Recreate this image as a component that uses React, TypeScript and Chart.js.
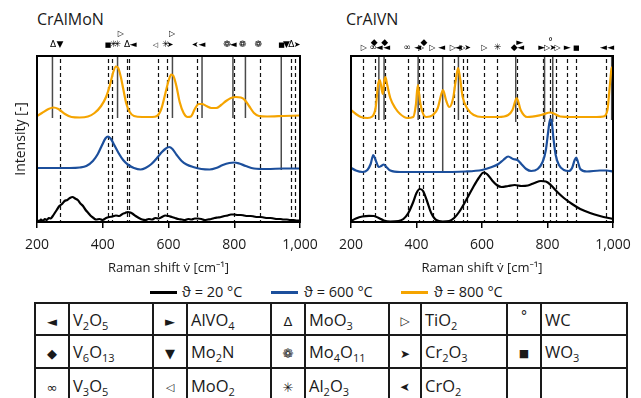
import React, { useEffect, useRef } from 'react';
import { Chart, registerables } from 'chart.js';
Chart.register(...registerables);

const FONT = '"Open Sans", "Noto Sans", "DejaVu Sans", sans-serif';
const SYMFONT = '"DejaVu Sans", "Noto Sans", sans-serif';
const BLACK = '#000000';
const BLUE = '#1c4f9c';
const ORANGE = '#f5a400';

// ---------- CrAlMoN (left panel) ----------
const moBlackX = [200,206,212,218,224,230,236,242,248,254,260,268,276,284,292,300,308,316,324,332,340,348,356,364,372,380,390,400,410,420,430,440,450,460,468,476,484,492,500,510,520,530,540,550,560,570,580,590,600,610,620,630,640,650,660,670,680,690,700,710,720,730,740,750,760,770,780,790,800,810,820,830,840,850,860,870,880,890,900,910,920,930,940,950,960,970,980,990,1000];
const moBlackY = [2,0.5,2.5,1,3,2,4,3.5,6,9,12,16,18,21,22,24,25,23.5,22,18.5,16,12,9,6,4,2.5,3,2,4,5,5.5,6.5,6,8,9,10,9.5,8,6,4,2.5,2,3,2.5,4,3.5,5,6.5,6,5,4,3,2.5,2,3,2.5,3.5,3.5,3,2,2.5,3,4,4.5,5,6,6.5,7.5,7.5,7,7,6.5,6,6,5.5,5,5,4.5,4,4,3.5,3,3,2.5,2.5,2,2,1.5,1.5];
const moBlueX = [200,250,300,330,350,370,385,398,408,416,425,435,448,462,478,495,515,530,548,565,580,592,602,612,625,640,655,675,700,725,745,765,785,800,815,835,860,900,950,1000];
const moBlueY = [54,54,54,54.5,56,61,68,77,83.5,85.5,83,77,69,62,57,54,52.5,54,58,64,70,73.5,75,73,67,61,57.5,55,53,52.5,54,57,59,59.5,58.5,56,53.5,53,53.5,53.5];
const moOrangeX = [200,215,235,250,265,285,305,330,355,375,395,410,422,432,440,447,455,463,472,482,495,520,550,565,578,590,600,608,615,624,634,646,658,668,680,692,702,715,730,745,760,775,790,805,820,832,845,860,875,900,950,1000];
const moOrangeY = [106,109,113,114.5,113,108,105,104.5,105.5,109,116,125,137,150,155.5,154,145,132,118,110,106,105,105,106,113,128,141,147.5,146,136,120,109,105,105.5,113,118,118,116,114,114,117,121,124,125,124.5,122,116,109,106,105.5,106,106.5];
const moDashed = [270,417,428,475,481,567,595,687,800,878,974,986];
const moSolid = [247,445,612,702,796,834,943];
const moSolidBottom = [104,104,104,104,104,104,52];
const moSymPos = [249,270,416,432,444,455,474,493,560,592,605,611,681,702,778,797,825,873,944,959,974,991];
const moSymKey = ['MoO3','Mo2N','WO3','Al2O3','Al2O3','TiO2','MoO3','V2O5','MoO2','Al2O3','Cr2O3','TiO2','CrO2','V2O5','Mo4O11','V2O5','Mo4O11','Mo4O11','WO3','Mo2N','MoO3','Cr2O3'];
const moSymRow = [0,0,0,0,0,1,0,0,0,0,0,1,0,0,0,0,0,0,0,0,0,0];

// ---------- CrAlVN (right panel) ----------
const vBlackX = [200,215,235,255,270,285,300,320,345,360,375,390,400,410,420,432,445,460,480,500,515,530,550,570,590,605,615,630,645,660,680,700,720,740,760,780,795,810,830,850,875,900,930,960,1000];
const vBlackY = [1,3.5,5.5,6.2,6,4,1.5,0.5,1,3,9,20,29,33,31,21,9,2,0.5,1,4,10,21,33,44,49.5,48,42,37,35,36,37,36,36.5,39,41,40.5,37,30,24,18,13,9,6,3];
const vBlueX = [200,215,235,250,260,268,275,285,292,300,308,320,350,450,550,600,630,650,665,680,695,708,720,735,750,770,785,795,802,808,812,818,825,835,850,865,875,883,888,893,900,920,960,980,1000];
const vBlueY = [54.3,51.5,50,52,58,67,62,55,56,57.5,55,51.5,50,50,50.5,52,55,58,62,65.5,63,62,58,53,51,53,60,72,90,103,102,84,67,57,52,51,54,62,64.5,60,53,50.5,51.5,51.5,50.5];
const vOrangeX = [200,215,230,250,265,275,283,288,293,297,301,305,310,320,335,350,372,390,398,404,410,418,430,450,465,475,481,490,500,512,520,527,533,541,556,575,600,650,680,693,706,718,738,780,809,839,870,950,971,983,991,996,1000];
const vOrangeY = [112,108,105,104,105.5,114,138,142,134,128,140,145,138,124,114,108,104,105,117,137,122,110,105,107,114,127,132,122,115,124,142,154,144,125,113,107,105,105,107,112,124,112,105,107,109.5,105.5,105,105,105.5,112,139,154,155];
const vDashed = [238,273,303,374,408,420,450,516,541,553,607,647,708,787,807,826,860,888,978];
const vSolid = [285,301,405,480,528,703,791,816,996];
const vSolidBottom = [102,102,102,50,102,100,100,100,102];
const vSymPos = [239,268,271,286,303,309,372,404,414,423,448,477,511,528,541,556,607,647,698,715,718,782,799,809,816,831,860,888,971,993];
const vSymKey = ['TiO2','V3O5','V6O13','V2O5','V6O13','V2O5','V3O5','V2O5','TiO2','V6O13','TiO2','V2O5','TiO2','V2O5','TiO2','Cr2O3','TiO2','Al2O3','V6O13','AlVO4','V2O5','AlVO4','TiO2','WC','Cr2O3','TiO2','AlVO4','WO3','V2O5','V2O5'];
const vSymRow = [0,0,1,0,1,0,0,0,0,1,0,0,0,0,0,0,0,0,0,1,0,0,0,1,0,0,0,0,0,0];

// ---------- legend / table ----------
const legendLabels = ['ϑ = 20 °C', 'ϑ = 600 °C', 'ϑ = 800 °C'];
const tableRows = [
  ['V2O5', 'AlVO4', 'MoO3', 'TiO2', 'WC'],
  ['V6O13', 'Mo2N', 'Mo4O11', 'Cr2O3', 'WO3'],
  ['V3O5', 'MoO2', 'Al2O3', 'CrO2', ''],
];

const GLYPH: Record<string, { ch: string; size: number; mirror?: boolean }> = {
  V2O5: { ch: '◄', size: 9 },
  AlVO4: { ch: '►', size: 9 },
  MoO3: { ch: 'Δ', size: 9 },
  TiO2: { ch: '▷', size: 8 },
  WC: { ch: '°', size: 10 },
  V6O13: { ch: '◆', size: 9 },
  Mo2N: { ch: '▼', size: 9 },
  Mo4O11: { ch: '❁', size: 9 },
  Cr2O3: { ch: '➤', size: 8 },
  WO3: { ch: '■', size: 7 },
  V3O5: { ch: '∞', size: 9 },
  MoO2: { ch: '◁', size: 7 },
  Al2O3: { ch: '✳', size: 9 },
  CrO2: { ch: '➤', size: 8, mirror: true },
};

type Panel = {
  bx: number[]; by: number[]; ux: number[]; uy: number[]; ox: number[]; oy: number[];
  dashed: number[]; solid: number[]; solidBottom: number[];
  symPos: number[]; symKey: string[]; symRow: number[]; rowY: number[];
  yWidth: number; padRight: number; yTitle: boolean;
};

const zip = (xs: number[], ys: number[]) => xs.map((x, i) => ({ x, y: ys[i] }));

function decoPlugin(p: Panel) {
  return {
    id: 'deco',
    beforeDatasetsDraw(chart: any) {
      const { ctx, chartArea: a, scales } = chart;
      const xs = scales.x, ys = scales.y;
      ctx.save();
      ctx.beginPath();
      ctx.rect(a.left, a.top, a.right - a.left, a.bottom - a.top);
      ctx.clip();
      ctx.strokeStyle = '#111';
      ctx.lineWidth = 1.2;
      ctx.setLineDash([4, 3]);
      for (const v of p.dashed) {
        const px = Math.round(xs.getPixelForValue(v)) + 0.5;
        ctx.beginPath();
        ctx.moveTo(px, a.top + 3);
        ctx.lineTo(px, a.bottom);
        ctx.stroke();
      }
      ctx.setLineDash([]);
      ctx.strokeStyle = '#4a4a4a';
      ctx.lineWidth = 1.5;
      p.solid.forEach((v, i) => {
        const px = xs.getPixelForValue(v);
        ctx.beginPath();
        ctx.moveTo(px, a.top);
        ctx.lineTo(px, ys.getPixelForValue(p.solidBottom[i]));
        ctx.stroke();
      });
      ctx.restore();
    },
    afterDraw(chart: any) {
      const { ctx, chartArea: a, scales } = chart;
      const xs = scales.x;
      ctx.save();
      ctx.strokeStyle = '#000';
      ctx.lineWidth = 2;
      ctx.strokeRect(a.left, a.top, a.right - a.left, a.bottom - a.top);
      ctx.fillStyle = '#000';
      ctx.textAlign = 'center';
      ctx.textBaseline = 'middle';
      p.symPos.forEach((v, i) => {
        const g = GLYPH[p.symKey[i]];
        const px = xs.getPixelForValue(v);
        const py = p.rowY[p.symRow[i]];
        ctx.font = `${g.size}px ${SYMFONT}`;
        ctx.save();
        ctx.translate(px, py);
        if (g.mirror) ctx.scale(-1, 1);
        ctx.fillText(g.ch, 0, 0);
        ctx.restore();
      });
      ctx.restore();
    },
  };
}

function buildConfig(p: Panel): any {
  const ds = (data: any, color: string, w: number) => ({
    data, borderColor: color, backgroundColor: color, borderWidth: w, pointRadius: 0,
    tension: 0.4, cubicInterpolationMode: 'monotone', fill: false,
  });
  return {
    type: 'line',
    data: {
      datasets: [
        ds(zip(p.bx, p.by), BLACK, 2.2),
        ds(zip(p.ux, p.uy), BLUE, 2.2),
        ds(zip(p.ox, p.oy), ORANGE, 2.2),
      ],
    },
    options: {
      animation: false,
      responsive: false,
      devicePixelRatio: 1,
      layout: { padding: { top: 56, right: p.padRight, left: 0, bottom: 0 } },
      plugins: { legend: { display: false }, tooltip: { enabled: false } },
      scales: {
        x: {
          type: 'linear', min: 200, max: 1000,
          ticks: {
            stepSize: 200, maxRotation: 0, padding: 9, color: '#1a1a1a',
            font: { family: FONT, size: 14 },
            callback: (v: number) => v.toLocaleString('en-US'),
          },
          grid: { display: true, drawOnChartArea: false, drawTicks: true, tickLength: 6, color: '#000', lineWidth: 1.5 },
          border: { display: false },
          title: {
            display: true, text: 'Raman shift v\u0307 [cm\u207B\u00B9]', color: '#1a1a1a',
            font: { family: FONT, size: 13 }, padding: { top: 0, bottom: 4 },
          },
          afterFit: (s: any) => { s.height = 58; },
        },
        y: {
          type: 'linear', min: 0, max: 166,
          ticks: { display: false },
          grid: { display: false },
          border: { display: false },
          title: {
            display: p.yTitle, text: 'Intensity [-]', color: '#1a1a1a',
            font: { family: FONT, size: 14 }, padding: { top: 13, bottom: 0 },
          },
          afterFit: (s: any) => { s.width = p.yWidth; },
        },
      },
    },
    plugins: [decoPlugin(p)],
  };
}

function ChartPanel({ panel, left, width }: { panel: Panel; left: number; width: number }) {
  const ref = useRef<HTMLCanvasElement>(null);
  useEffect(() => {
    const c = new Chart(ref.current as HTMLCanvasElement, buildConfig(panel));
    return () => c.destroy();
  }, []);
  return (
    <canvas ref={ref} width={width} height={280}
      style={{ position: 'absolute', left, top: 0, width, height: 280 }} />
  );
}

const leftPanel: Panel = {
  bx: moBlackX, by: moBlackY, ux: moBlueX, uy: moBlueY, ox: moOrangeX, oy: moOrangeY,
  dashed: moDashed, solid: moSolid, solidBottom: moSolidBottom,
  symPos: moSymPos, symKey: moSymKey, symRow: moSymRow, rowY: [45, 34],
  yWidth: 37, padRight: 30, yTitle: true,
};
const rightPanel: Panel = {
  bx: vBlackX, by: vBlackY, ux: vBlueX, uy: vBlueY, ox: vOrangeX, oy: vOrangeY,
  dashed: vDashed, solid: vSolid, solidBottom: vSolidBottom,
  symPos: vSymPos, symKey: vSymKey, symRow: vSymRow, rowY: [48, 42.5],
  yWidth: 19, padRight: 28, yTitle: false,
};

function Formula({ f }: { f: string }) {
  const parts = f.match(/[A-Za-z]+|\d+/g) || [];
  return (
    <span>
      {parts.map((p, i) => /\d/.test(p)
        ? <sub key={i} style={{ fontSize: 11, verticalAlign: -4, lineHeight: 0 }}>{p}</sub>
        : <span key={i}>{p}</span>)}
    </span>
  );
}

function Sym({ k }: { k: string }) {
  if (!k) return null;
  const g = GLYPH[k];
  return (
    <span style={{
      display: 'inline-block', fontFamily: SYMFONT, fontSize: g.size + 4,
      transform: g.mirror ? 'scaleX(-1)' : undefined,
      verticalAlign: k === 'WC' ? 'top' : 'middle',
    }}>{g.ch}</span>
  );
}

const colW = [34, 84, 34, 84, 34, 84, 32, 86, 34, 86];
const rowH = [32, 33, 34];
const legendColors = [BLACK, BLUE, ORANGE];
const legendLineX = [150, 271, 401];
const legendTextX = [182, 304, 434];

export default function App() {
  const cell: React.CSSProperties = { border: '2px solid #1a1a1a', padding: 0 };
  return (
    <div style={{
      position: 'fixed', left: 0, top: 0, width: 641, height: 398, overflow: 'hidden',
      background: '#fff', fontFamily: FONT, color: '#1a1a1a',
    }}>
      <div style={{ position: 'absolute', left: 37, top: 9, fontSize: 16, lineHeight: '20px' }}>CrAlMoN</div>
      <div style={{ position: 'absolute', left: 346, top: 9, fontSize: 16, lineHeight: '20px' }}>CrAlVN</div>
      <ChartPanel panel={leftPanel} left={0} width={330} />
      <ChartPanel panel={rightPanel} left={330} width={311} />
      {legendLabels.map((t, i) => (
        <React.Fragment key={i}>
          <div style={{ position: 'absolute', left: legendLineX[i], top: 291, width: 27, height: 3, background: legendColors[i] }} />
          <div style={{ position: 'absolute', left: legendTextX[i], top: 283, fontSize: 14.5, lineHeight: '18px', whiteSpace: 'nowrap' }}>{t}</div>
        </React.Fragment>
      ))}
      <table style={{
        position: 'absolute', left: 34, top: 302, borderCollapse: 'collapse', tableLayout: 'fixed',
        fontSize: 16.5, width: colW.reduce((a, b) => a + b, 0),
      }}>
        <colgroup>{colW.map((w, i) => <col key={i} style={{ width: w }} />)}</colgroup>
        <tbody>
          {tableRows.map((r, ri) => (
            <tr key={ri} style={{ height: rowH[ri] }}>
              {r.map((k, ci) => (
                <React.Fragment key={ci}>
                  <td style={{ ...cell, textAlign: 'center', verticalAlign: 'middle' }}><Sym k={k} /></td>
                  <td style={{ ...cell, paddingLeft: 3, verticalAlign: 'middle', whiteSpace: 'nowrap' }}>{k ? <Formula f={k} /> : null}</td>
                </React.Fragment>
              ))}
            </tr>
          ))}
        </tbody>
      </table>
    </div>
  );
}
